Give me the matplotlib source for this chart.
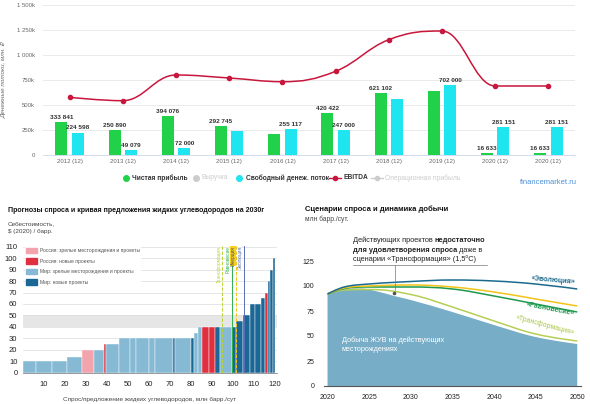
import numpy as np
import matplotlib.pyplot as plt
from matplotlib.path import Path
from matplotlib.patches import PathPatch, Patch
from matplotlib.lines import Line2D

plt.rcParams['font.family'] = ['Liberation Sans', 'DejaVu Sans']

# ---------- top chart: cash flows ----------
periods = ['2012 (12)', '2013 (12)', '2014 (12)', '2015 (12)', '2016 (12)',
           '2017 (12)', '2018 (12)', '2019 (12)', '2020 (12)', '2020 (12)']
net_profit = [333841, 250890, 394076, 292745, 210000, 420422, 621102, 640000, 16633, 16633]
free_cash_flow = [224598, 49079, 72000, 240000, 255117, 247000, 560000, 702000, 281151, 281151]
ebitda = [577000, 543000, 800000, 770000, 733000, 837000, 1153000, 1240000, 690000, 690000]
net_labeled = [True, True, True, True, False, True, True, False, True, True]
fcf_labeled = [True, True, True, False, True, True, False, True, True, True]
top_yticks = [0, 250000, 500000, 750000, 1000000, 1250000, 1500000]
top_yticklabels = ['0', '250k', '500k', '750k', '1 000k', '1 250k', '1 500k']

# ---------- bottom left: supply curve 2030 ----------
seg_width = [6, 8, 7, 7, 6, 4.5, 1, 6, 5.5, 3, 6, 3, 8.5, 1, 7.5, 1.3, 2, 2.2,
             3, 3, 2.4, 5.5, 2.3, 3.2, 3.1, 2.5, 2.7, 1.9, 1.6, 1.1, 1.2, 1.1]
seg_cost = [10, 10, 10, 14, 20, 20, 25, 25, 30, 30, 30, 30, 30, 30, 30, 30, 35, 40,
            40, 40, 40, 40, 40, 45, 50, 60, 60, 65, 70, 80, 90, 100]
seg_type = ['wo', 'wo', 'wo', 'wo', 'ro', 'wo', 'rn', 'wo', 'wo', 'wo', 'wo', 'wo',
            'wo', 'wn', 'wo', 'wn', 'wo', 'wo', 'rn', 'rn', 'wn', 'wo', 'wn', 'wn',
            'wn', 'wn', 'wn', 'wn', 'rn', 'wn', 'wn', 'wn']
type_names = {'ro': 'Россия: зрелые месторождения и проекты',
              'rn': 'Россия: новые проекты',
              'wo': 'Мир: зрелые месторождения и проекты',
              'wn': 'Мир: новые проекты'}
type_colors = {'ro': '#f2a3ab', 'rn': '#e0303f', 'wo': '#86b9d4', 'wn': '#1b6896'}
scen_demand = [95, 99.4, 101.7, 105.3]
scen_names = ['Трансформация', 'Равновесие', 'Инерция', 'Эволюция']

# ---------- bottom right: demand scenarios ----------
area_years = [2020, 2022, 2024, 2026, 2028, 2030, 2035, 2040, 2045, 2050]
existing = [92, 97, 97.5, 94.5, 90, 86, 74, 61, 49, 42]
scen_years = [2020, 2022, 2025, 2030, 2035, 2040, 2045, 2050]
evolution = [92, 99, 102, 104.5, 106, 105, 102, 97]
inertia = [92, 98, 100, 101, 99, 94, 87, 80]
balance = [92, 97.5, 99, 99, 97, 90, 82, 74]
transformation = [92, 96, 96.5, 91.5, 79, 65, 52, 45]

W, H = 590, 404
fig = plt.figure(figsize=(W / 100, H / 100), dpi=100)


def box(l, t, r, b):
    return [l / W, 1 - b / H, (r - l) / W, (b - t) / H]


def fx(px):
    return px / W


def fy(py):
    return 1 - py / H


def spline(xs, ys, smooth=1.5):
    # highcharts-like smooth curve through the points
    n = len(xs)
    lc, rc = [None] * n, [None] * n
    for i in range(n):
        x, y = xs[i], ys[i]
        if 0 < i < n - 1:
            px, py = xs[i - 1], ys[i - 1]
            nx, ny = xs[i + 1], ys[i + 1]
            lx, ly = (smooth * x + px) / (smooth + 1), (smooth * y + py) / (smooth + 1)
            rx, ry = (smooth * x + nx) / (smooth + 1), (smooth * y + ny) / (smooth + 1)
            corr = (ry - ly) * (rx - x) / (rx - lx) + y - ry
            ly += corr
            ry += corr
            if ly > py and ly > y:
                ly = max(py, y); ry = 2 * y - ly
            elif ly < py and ly < y:
                ly = min(py, y); ry = 2 * y - ly
            if ry > ny and ry > y:
                ry = max(ny, y); ly = 2 * y - ry
            elif ry < ny and ry < y:
                ry = min(ny, y); ly = 2 * y - ry
            lc[i], rc[i] = (lx, ly), (rx, ry)
        else:
            lc[i] = rc[i] = (x, y)
    verts = [(xs[0], ys[0])]
    codes = [Path.MOVETO]
    for i in range(1, n):
        verts += [rc[i - 1], lc[i], (xs[i], ys[i])]
        codes += [Path.CURVE4] * 3
    return verts, codes


# ===== top chart =====
ax1 = fig.add_axes(box(43, 5, 575, 155))
x = np.arange(len(periods))
ax1.bar(x - 0.155, net_profit, 0.225, color='#22d14a', zorder=2)
ax1.bar(x + 0.155, free_cash_flow, 0.225, color='#1fe5f0', zorder=2)
v, c = spline(list(x), ebitda)
ax1.add_patch(PathPatch(Path(v, c), fill=False, ec='#c8163c', lw=1.1, zorder=3))
ax1.plot(x, ebitda, 'o', color='#c8163c', ms=3, zorder=4)
for xi, val, show in zip(x, net_profit, net_labeled):
    if show:
        ax1.annotate(f'{val:,}'.replace(',', ' '), (xi - 0.155, val), xytext=(0, 1.5),
                     textcoords='offset points', ha='center', va='bottom',
                     fontsize=4.6, fontweight='bold', color='#333333', zorder=5)
for xi, val, show in zip(x, free_cash_flow, fcf_labeled):
    if show:
        ax1.annotate(f'{val:,}'.replace(',', ' '), (xi + 0.155, val), xytext=(0, 1.5),
                     textcoords='offset points', ha='center', va='bottom',
                     fontsize=4.6, fontweight='bold', color='#333333', zorder=5)
ax1.set_xlim(-0.5, 9.5)
ax1.set_ylim(0, 1500000)
ax1.set_yticks(top_yticks, top_yticklabels)
ax1.set_xticks(x, periods)
ax1.grid(axis='y', color='#e6e6e6', lw=0.6)
ax1.set_axisbelow(True)
for s in ['top', 'right', 'left']:
    ax1.spines[s].set_visible(False)
ax1.spines['bottom'].set_color('#ccd6eb')
ax1.spines['bottom'].set_linewidth(0.6)
ax1.tick_params(length=0, labelsize=4.3, colors='#666666')
ax1.tick_params(axis='y', pad=6)
ax1.tick_params(axis='x', pad=3)
ax1.set_ylabel('Денежные потоки, млн. ₽', fontsize=4.5, color='#666666', style='italic')
ax1.yaxis.set_label_coords(-0.068, 0.5)

# legend of the top chart
leg_y = 178
fig.add_artist(Line2D([fx(126)], [fy(leg_y)], marker='o', ms=4, color='#22d14a', lw=0))
fig.text(fx(132), fy(leg_y), 'Чистая прибыль', fontsize=4.8, fontweight='bold',
         color='#333333', va='center')
fig.add_artist(Line2D([fx(196)], [fy(leg_y)], marker='o', ms=4, color='#cccccc', lw=0))
fig.text(fx(201), fy(leg_y), 'Выручка', fontsize=4.8, color='#cccccc', va='center')
fig.add_artist(Line2D([fx(239)], [fy(leg_y)], marker='o', ms=4, color='#1fe5f0', lw=0))
fig.text(fx(246), fy(leg_y), 'Свободный денеж. поток', fontsize=4.8, fontweight='bold',
         color='#333333', va='center')
fig.add_artist(Line2D([fx(329), fx(341)], [fy(leg_y)] * 2, color='#c8163c', lw=1))
fig.add_artist(Line2D([fx(335)], [fy(leg_y)], marker='o', ms=3, color='#c8163c', lw=0))
fig.text(fx(343), fy(leg_y), 'EBITDA', fontsize=4.8, fontweight='bold',
         color='#333333', va='center')
fig.add_artist(Line2D([fx(371), fx(383)], [fy(leg_y)] * 2, color='#cccccc', lw=1))
fig.add_artist(Line2D([fx(377)], [fy(leg_y)], marker='o', ms=3, color='#cccccc', lw=0))
fig.text(fx(385), fy(leg_y), 'Операционная прибыль', fontsize=4.8, color='#cccccc',
         va='center')
fig.text(fx(520), fy(183), 'financemarket.ru', fontsize=5.5, color='#4a8fd8', va='center')

# ===== bottom left: supply curve =====
ax2 = fig.add_axes(box(23, 245.6, 277, 372.7))
lefts = np.concatenate([[0], np.cumsum(seg_width)[:-1]])
ax2.axhspan(40, 50, color='#e6e6e6', zorder=0, lw=0)
ax2.bar(lefts, seg_cost, seg_width, align='edge',
        color=[type_colors[t] for t in seg_type], edgecolor='white', lw=0.3, zorder=2)
ax2.set_xlim(0, 121)
ax2.set_ylim(0, 111)
ax2.set_yticks(np.arange(0, 111, 10))
ax2.set_xticks(np.arange(10, 121, 10))
ax2.grid(axis='y', color='#dcdcdc', lw=0.5)
ax2.set_axisbelow(True)
for s in ['top', 'right', 'left']:
    ax2.spines[s].set_visible(False)
ax2.spines['bottom'].set_color('#888888')
ax2.spines['bottom'].set_linewidth(0.6)
ax2.tick_params(length=0, labelsize=5.5, colors='#222222')
ax2.tick_params(axis='x', pad=6)
ax2.tick_params(axis='y', pad=4)
scen_colors = ['#b8d43a', '#2fb04e', '#f0c419', '#5b6fb3']
scen_styles = ['--', '-', '--', '-']
for xd, name, col, ls in zip(scen_demand, scen_names, scen_colors, scen_styles):
    ax2.axvline(xd, color=col, ls=ls, lw=0.7, zorder=3)
    kw = {}
    if name == 'Инерция':
        kw = dict(bbox=dict(fc='#f5d020', ec='none', pad=0.3))
    ax2.text(xd - 0.4, 110.5, name, rotation=90, ha='right', va='top', fontsize=3.4,
             color=col if name != 'Инерция' else '#555555', zorder=4, **kw)
handles = [Patch(color=type_colors[k], label=type_names[k]) for k in ['ro', 'rn', 'wo', 'wn']]
ax2.legend(handles=handles, loc='upper left', bbox_to_anchor=(0.006, 0.99), fontsize=3.6,
           frameon=True, facecolor='white', edgecolor='none', framealpha=1, borderpad=0.2,
           handlelength=2.2, handleheight=1.3, labelspacing=1.0, handletextpad=0.7,
           borderaxespad=0, labelcolor='#555555')
fig.text(fx(8), fy(210.5), 'Прогнозы спроса и кривая предложения жидких углеводородов на 2030г',
         fontsize=5, fontweight='bold', color='#111111', va='center')
fig.text(fx(8), fy(224), 'Себестоимость,', fontsize=4.6, color='#444444', va='center')
fig.text(fx(8), fy(232), '$ (2020) / барр.', fontsize=4.6, color='#444444', va='center')
fig.text(fx(150), fy(400), 'Спрос/предложение жидких углеводородов, млн барр./сут',
         fontsize=4.6, color='#444444', va='center', ha='center')

# ===== bottom right: scenarios =====
ax3 = fig.add_axes(box(324.2, 258, 580.6, 386))
v, c = spline(area_years, existing)
v_area = v + [(area_years[-1], 0), (area_years[0], 0), (area_years[0], existing[0])]
c_area = c + [Path.LINETO, Path.LINETO, Path.CLOSEPOLY]
ax3.add_patch(PathPatch(Path(v_area, c_area), fc='#78adc7', ec='none', zorder=1))
for vals, col in [(transformation, '#b5cf55'), (balance, '#1e9a4e'),
                  (inertia, '#f2c318'), (evolution, '#1b6a8e')]:
    v, c = spline(scen_years, vals)
    ax3.add_patch(PathPatch(Path(v, c), fill=False, ec=col, lw=1.1, zorder=2))
ax3.plot([2028], [93], 'o', color='#555555', ms=1.6, zorder=4)
ax3.set_xlim(2019.6, 2050.4)
ax3.set_ylim(0, 128)
ax3.set_xticks(np.arange(2020, 2051, 5))
ax3.set_yticks(np.arange(0, 126, 25))
for s in ['top', 'right', 'left']:
    ax3.spines[s].set_visible(False)
ax3.spines['bottom'].set_color('#555555')
ax3.spines['bottom'].set_linewidth(0.8)
ax3.tick_params(length=0, labelsize=5, colors='#222222')
ax3.tick_params(axis='x', pad=6)
ax3.tick_params(axis='y', pad=7)
ax3.text(2021.7, 46, 'Добыча ЖУВ на действующих', color='white', fontsize=5.2, va='center')
ax3.text(2021.7, 36.5, 'месторождениях', color='white', fontsize=5.2, va='center')

fig.text(fx(553), fy(280), '«Эволюция»', fontsize=5, fontweight='bold', color='#1b6a8e',
         ha='center', va='center', rotation=-5)
fig.text(fx(550), fy(309), '«Равновесие»', fontsize=5, fontweight='bold', color='#1e9a4e',
         ha='center', va='center', rotation=-11)
fig.text(fx(545), fy(325), '«Трансформация»', fontsize=5, color='#a9c644',
         ha='center', va='center', rotation=-15)

fig.text(fx(305), fy(209), 'Сценарии спроса и динамика добычи', fontsize=5.5,
         fontweight='bold', color='#111111', va='center')
fig.text(fx(305), fy(219), 'млн барр./сут.', fontsize=4.8, color='#444444', va='center')

# annotation with mixed bold text
renderer = fig.canvas.get_renderer()
lines = [[('Действующих проектов ', 'normal'), ('недостаточно', 'bold')],
         [('для удовлетворения спроса', 'bold'), (' даже в', 'normal')],
         [('сценарии «Трансформация» (1,5⁰С)', 'normal')]]
for row, py in zip(lines, [240.7, 250, 259]):
    xpos = fx(353)
    for txt, wt in row:
        t = fig.text(xpos, fy(py), txt, fontsize=5.3, fontweight=wt, color='#222222',
                     va='center')
        xpos = fig.transFigure.inverted().transform(
            (t.get_window_extent(renderer).x1, 0))[0]
fig.add_artist(Line2D([fx(353), fx(487)], [fy(264.5)] * 2, color='#777777', lw=0.5))
fig.add_artist(Line2D([fx(395), fx(395)], [fy(264.5), fy(290)], color='#777777', lw=0.5))

fig.savefig('out.png', dpi=100)
